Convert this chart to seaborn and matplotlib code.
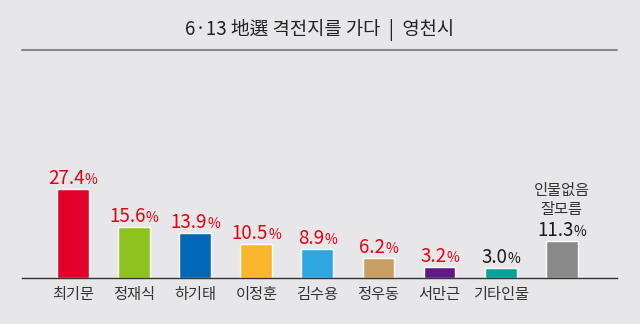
import matplotlib
matplotlib.use("Agg")
import matplotlib.pyplot as plt
import seaborn as sns
import pandas as pd
from matplotlib.transforms import offset_copy

categories = ["최기문", "정재식", "하기태", "이정훈", "김수용", "정우동", "서만근", "기타인물", "인물없음\n잘모름"]
tick_labels = ["최기문", "정재식", "하기태", "이정훈", "김수용", "정우동", "서만근", "기타인물", ""]
values = [27.4, 15.6, 13.9, 10.5, 8.9, 6.2, 3.2, 3.0, 11.3]
bar_colors = ["#e4002b", "#8dc21f", "#0068b7", "#f8b62d", "#2ea7e0",
              "#c9a063", "#601986", "#00a29a", "#898989"]
label_colors = ["#e60012"] * 7 + ["#1a1a1a", "#1a1a1a"]
last_label_lines = ["인물없음", "잘모름"]
title = "6·13 地選 격전지를 가다  |  영천시"

sns.set_theme(style="white")
plt.rcParams["font.family"] = ["Noto Sans CJK KR", "DejaVu Sans"]

bg = "#e7e7e9"
fig = plt.figure(figsize=(6.4, 3.24), dpi=100, facecolor=bg)
ax = fig.add_axes([22 / 640, 0.143, 595 / 640, 0.40])
ax.set_facecolor(bg)

df = pd.DataFrame({"cat": categories, "val": values})
sns.barplot(data=df, x="cat", y="val", hue="cat", palette=bar_colors,
            legend=False, width=0.52, ax=ax, saturation=1)

ax.set_xlim(-0.835, 8.905)
ax.set_ylim(0, 40)
ax.set_xlabel("")
ax.set_ylabel("")
ax.set_yticks([])
ax.set_xticks(range(len(categories)))
ax.set_xticklabels(tick_labels, fontsize=11, color="#333333")
ax.tick_params(axis="x", length=0, pad=6)
for s in ["top", "left", "right"]:
    ax.spines[s].set_visible(False)
ax.spines["bottom"].set_color("#333333")
ax.spines["bottom"].set_linewidth(1.0)

renderer = fig.canvas.get_renderer()
px2pt = 72 / fig.dpi
for i, (v, c) in enumerate(zip(values, label_colors)):
    num = f"{v:.1f}"
    t1 = ax.text(0, 0, num, fontsize=13.5, color=c)
    t2 = ax.text(0, 0, "%", fontsize=10, color=c)
    w1 = t1.get_window_extent(renderer).width
    w2 = t2.get_window_extent(renderer).width
    t1.remove(); t2.remove()
    total = w1 + w2
    tr1 = offset_copy(ax.transData, fig=fig, x=-total / 2 * px2pt, y=5 * px2pt, units="points")
    ax.text(i, v, num, fontsize=13.5, color=c, ha="left", va="baseline", transform=tr1)
    tr2 = offset_copy(ax.transData, fig=fig, x=(-total / 2 + w1) * px2pt, y=5 * px2pt, units="points")
    ax.text(i, v, "%", fontsize=10, color=c, ha="left", va="baseline", transform=tr2)

last = len(values) - 1
for k, line in enumerate(reversed(last_label_lines)):
    tr3 = offset_copy(ax.transData, fig=fig, x=0, y=(27.5 + 19 * k) * px2pt, units="points")
    ax.text(last, values[last], line, fontsize=11, color="#333333",
            ha="center", va="baseline", transform=tr3)

fig.text(0.5, 1 - 30 / 324, title, ha="center", va="center", fontsize=13.5, color="#222222")
fig.add_artist(plt.Line2D([22 / 640, 617 / 640], [1 - 50 / 324, 1 - 50 / 324],
                          color="#8a8a8a", linewidth=1.5))

fig.savefig("out.png", dpi=100, facecolor=bg)
